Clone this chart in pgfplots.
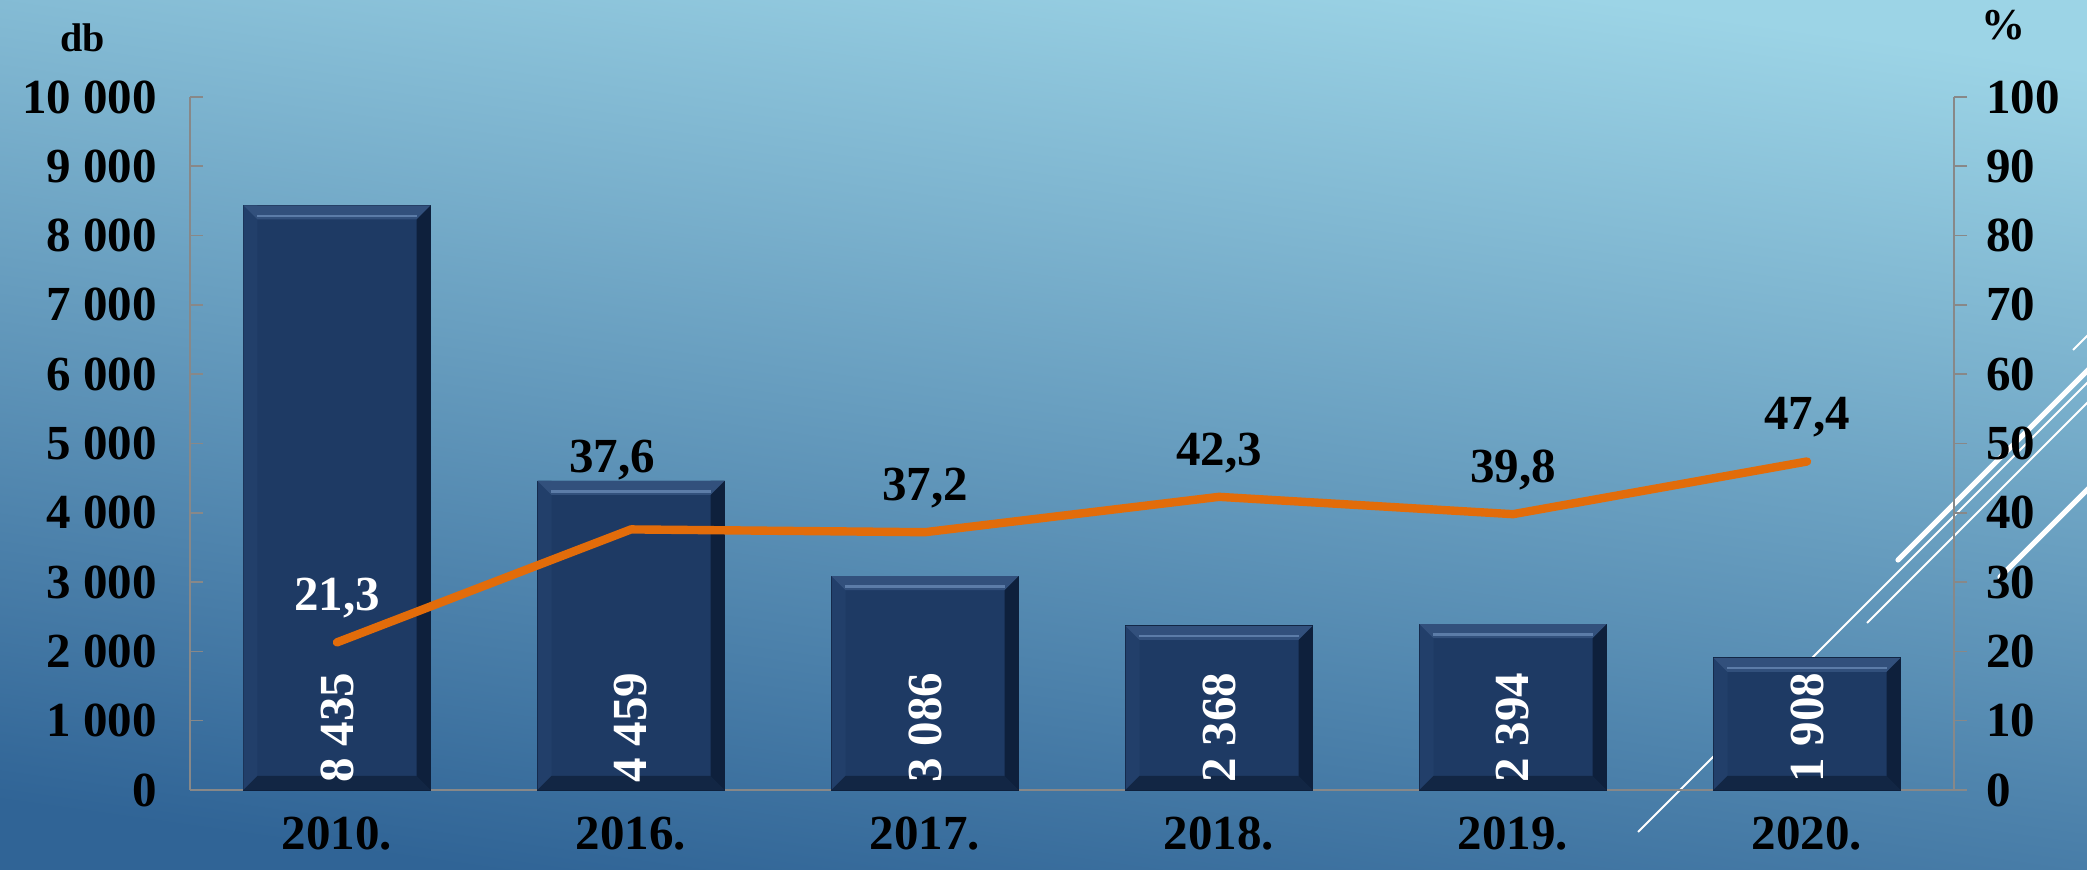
\documentclass[border=0pt]{standalone}
\usepackage{fontspec}
\setmainfont{Liberation Serif}
\usepackage{pgfplots}
\pgfplotsset{compat=1.18}

\definecolor{bgtop}{RGB}{156,212,230}
\definecolor{bgbot}{RGB}{48,100,150}
\definecolor{barfill}{RGB}{30,58,100}
\definecolor{bartop}{RGB}{50,80,124}
\definecolor{barhi}{RGB}{92,124,168}
\definecolor{barleft}{RGB}{34,63,106}
\definecolor{barright}{RGB}{14,32,60}
\definecolor{barbot}{RGB}{18,38,68}
\definecolor{linec}{RGB}{226,108,10}
\definecolor{axisgray}{RGB}{136,136,136}

\newcommand{\lblfont}{\bfseries\fontsize{24.5}{28}\selectfont}

% bevel pieces, drawn at the top and at the foot of each bar
\pgfdeclareplotmark{bevtop}{%
  \pgfsetfillcolor{bartop}%
  \pgfpathmoveto{\pgfpoint{-46.75pt}{0pt}}%
  \pgfpathlineto{\pgfpoint{46.75pt}{0pt}}%
  \pgfpathlineto{\pgfpoint{39.75pt}{-7pt}}%
  \pgfpathlineto{\pgfpoint{-39.75pt}{-7pt}}%
  \pgfpathclose
  \pgfusepath{fill}%
  \pgfsetstrokecolor{barhi}\pgfsetlinewidth{1.2pt}%
  \pgfpathmoveto{\pgfpoint{-40pt}{-5.2pt}}%
  \pgfpathlineto{\pgfpoint{40pt}{-5.2pt}}%
  \pgfusepath{stroke}%
}
\pgfdeclareplotmark{bevbot}{%
  \pgfsetfillcolor{barbot}%
  \pgfpathmoveto{\pgfpoint{-46.75pt}{0pt}}%
  \pgfpathlineto{\pgfpoint{46.75pt}{0pt}}%
  \pgfpathlineto{\pgfpoint{39.75pt}{7pt}}%
  \pgfpathlineto{\pgfpoint{-39.75pt}{7pt}}%
  \pgfpathclose
  \pgfusepath{fill}%
}

\begin{document}
\begin{tikzpicture}

% background
\shade[top color=bgtop, bottom color=bgbot, shading angle=-8] (0,0) rectangle (1043.5pt,435pt);

% decorative lines
\begin{scope}
\clip (0,0) rectangle (1043.5pt,435pt);
\draw[white, line width=1pt] (819pt,19pt) -- (1060pt,260pt);
\draw[white, line width=1pt] (933.5pt,123.5pt) -- (1060pt,250pt);
\draw[white, line width=2.6pt, line cap=round] (949pt,155pt) -- (1060pt,266pt);
\draw[white, line width=2.6pt, line cap=round] (1000pt,146.5pt) -- (1060pt,206.5pt);
\draw[white, line width=1pt] (1036.5pt,260pt) -- (1060pt,283.5pt);
\end{scope}

\node[font=\bfseries\fontsize{20}{24}\selectfont] at (41.5pt,416pt) {db};
\node[font=\bfseries\fontsize{22}{26}\selectfont] at (1001.5pt,422.5pt) {\%};

\begin{axis}[
    at={(95pt,40pt)}, anchor=south west,
    scale only axis,
    width=882pt, height=346.5pt,
    xmin=-0.5, xmax=5.5,
    ymin=0, ymax=10000,
    axis y line*=left, axis x line*=bottom,
    axis line style={-, draw=axisgray, line width=0.8pt},
    xtick={0,1,2,3,4,5},
    xticklabels={2010.,2016.,2017.,2018.,2019.,2020.},
    xtick style={draw=none},
    ytick={0,1000,...,10000},
    scaled y ticks=false,
    ytick style={draw=axisgray, line width=0.8pt},
    tick align=inside,
    major tick length=6.5pt,
    tick label style={font=\lblfont},
    /pgf/number format/assume math mode=true,
    /pgf/number format/fixed,
    /pgf/number format/precision=0,
    /pgf/number format/1000 sep={\ },
    yticklabel style={xshift=-13pt},
    xticklabel style={yshift=-10pt},
    clip=false,
]
\pgfplotstableread{
x  y
0  8435
1  4459
2  3086
3  2368
4  2394
5  1908
}\bars
\addplot[ybar, bar width=93.5pt, bar shift=0pt, fill=barfill, draw=barright, line width=0.4pt] table {\bars};
\addplot[ybar, bar width=7pt, bar shift=-43.25pt, fill=barleft, draw=none] table {\bars};
\addplot[ybar, bar width=7pt, bar shift=43.25pt, fill=barright, draw=none] table {\bars};
\addplot[draw=none, only marks, mark=bevtop] table {\bars};
\addplot[draw=none, only marks, mark=bevbot] coordinates {(0,0) (1,0) (2,0) (3,0) (4,0) (5,0)};
\addplot[draw=none, nodes near coords, point meta=explicit symbolic,
  every node near coord/.style={rotate=90, anchor=west, text=white, font=\lblfont}]
  coordinates {(0,0) [8 435] (1,0) [4 459] (2,0) [3 086] (3,0) [2 368] (4,0) [2 394] (5,0) [1 908]};
\end{axis}

\begin{axis}[
    at={(95pt,40pt)}, anchor=south west,
    scale only axis,
    width=882pt, height=346.5pt,
    xmin=-0.5, xmax=5.5,
    ymin=0, ymax=100,
    axis y line*=right, axis x line=none,
    axis line style={-, draw=axisgray, line width=0.8pt},
    ytick={0,10,...,100},
    ytick style={draw=axisgray, line width=0.8pt},
    tick align=outside,
    major tick length=6.5pt,
    tick label style={font=\lblfont},
    /pgf/number format/assume math mode=true,
    yticklabel style={xshift=6pt},
    clip=false,
]
\addplot[color=linec, line width=4.2pt, line cap=round, line join=round]
  coordinates {(0,21.3) (1,37.6) (2,37.2) (3,42.3) (4,39.8) (5,47.4)};
\addplot[draw=none, nodes near coords, point meta=explicit symbolic,
  every node near coord/.style={anchor=center, yshift=22pt, text=white, font=\lblfont}]
  coordinates {(0,21.3) [21,3]};
\addplot[draw=none, nodes near coords, point meta=explicit symbolic,
  every node near coord/.style={anchor=center, yshift=22pt, text=black, font=\lblfont}]
  coordinates {(2,37.2) [37,2] (3,42.3) [42,3] (4,39.8) [39,8] (5,47.4) [47,4]};
\addplot[draw=none, nodes near coords, point meta=explicit symbolic,
  every node near coord/.style={anchor=center, yshift=34.5pt, xshift=-9.5pt, text=black, font=\lblfont}]
  coordinates {(1,37.6) [37,6]};
\end{axis}

\pgfresetboundingbox
\useasboundingbox (0,0) rectangle (1043.5pt,435pt);
\end{tikzpicture}
\end{document}
